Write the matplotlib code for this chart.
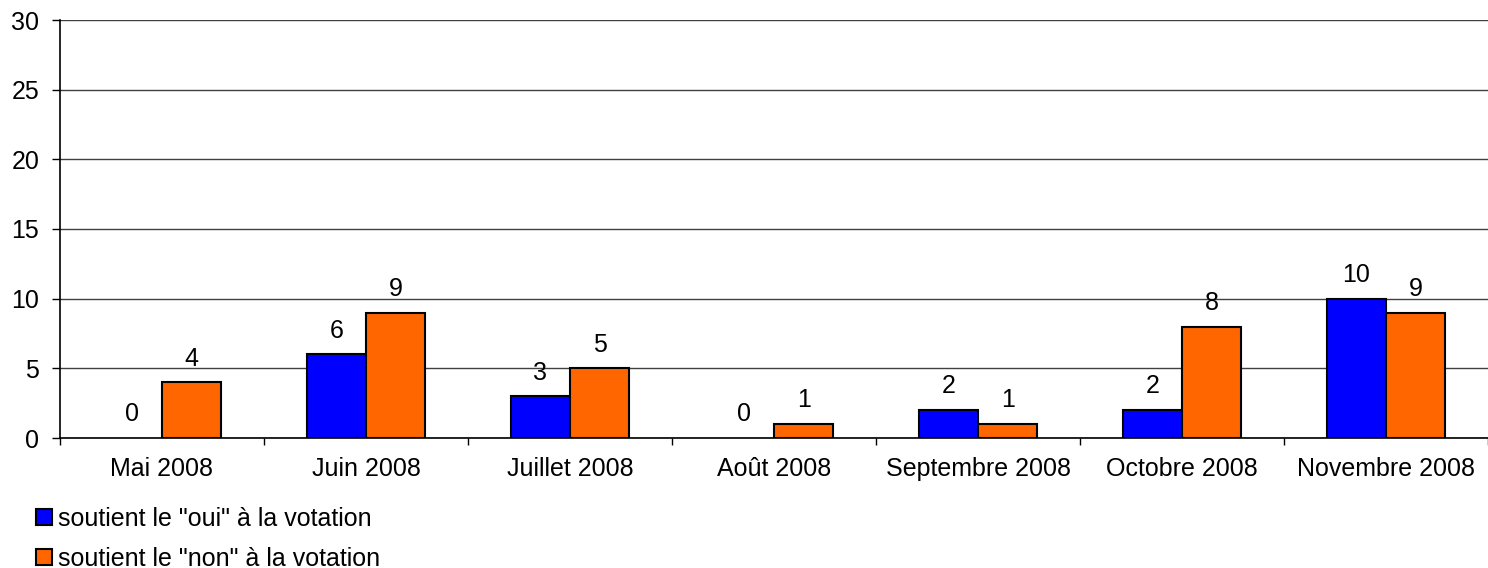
import numpy as np
import matplotlib
matplotlib.use("Agg")
from matplotlib import pyplot as plt
from matplotlib.patches import Patch

plt.rcParams['font.family'] = ['Liberation Sans', 'DejaVu Sans']

mois = ["Mai 2008", "Juin 2008", "Juillet 2008", "Août 2008",
        "Septembre 2008", "Octobre 2008", "Novembre 2008"]
oui = [0, 6, 3, 0, 2, 2, 10]
non = [4, 9, 5, 1, 1, 8, 9]
label_oui = 'soutient le "oui" à la votation'
label_non = 'soutient le "non" à la votation'

bleu = "#0000ff"
orange = "#ff6600"
fs = 18

fig = plt.figure(figsize=(14.88, 5.68), dpi=100)
ax = fig.add_axes([60/1488, 1-438/568, 1428/1488, 418/568])

x = np.arange(len(mois))
w = 0.29
# pas de contour pour les barres nulles
ec_oui = ["black" if v > 0 else "none" for v in oui]
ec_non = ["black" if v > 0 else "none" for v in non]
ax.bar(x - w/2, oui, w, color=bleu, edgecolor=ec_oui, linewidth=1.5, zorder=3)
ax.bar(x + w/2, non, w, color=orange, edgecolor=ec_non, linewidth=1.5, zorder=3)

for xi, v in zip(x, oui):
    ax.annotate(str(v), (xi - w/2, v), xytext=(0, 12), textcoords="offset points",
                ha="center", va="baseline", fontsize=fs)
for xi, v in zip(x, non):
    ax.annotate(str(v), (xi + w/2, v), xytext=(0, 12), textcoords="offset points",
                ha="center", va="baseline", fontsize=fs)

ax.set_xlim(-0.5, len(mois) - 0.5)
ax.set_ylim(0, 30)
ax.set_yticks(range(0, 31, 5))
ax.tick_params(axis="y", labelsize=fs, length=6, width=1, pad=9)
ax.set_xticks(x)
ax.set_xticklabels(mois, fontsize=fs)
ax.tick_params(axis="x", length=0, pad=14)
ax.set_xticks(np.arange(len(mois) + 1) - 0.5, minor=True)
ax.tick_params(axis="x", which="minor", length=5, width=1)
ax.grid(axis="y", color="#404040", linewidth=1, zorder=0)
for s in ["top", "right"]:
    ax.spines[s].set_visible(False)
ax.spines["left"].set_linewidth(1.2)
ax.spines["bottom"].set_linewidth(1.2)

handles = [Patch(facecolor=bleu, edgecolor="black", linewidth=1.5, label=label_oui),
           Patch(facecolor=orange, edgecolor="black", linewidth=1.5, label=label_non)]
fig.legend(handles=handles, loc="upper left", bbox_to_anchor=(36/1488, 1-507/568),
           frameon=False, fontsize=fs, handlelength=0.62, handleheight=0.62,
           handletextpad=0.28, labelspacing=0.62, borderpad=0, borderaxespad=0)

fig.savefig("out.png", dpi=100)
